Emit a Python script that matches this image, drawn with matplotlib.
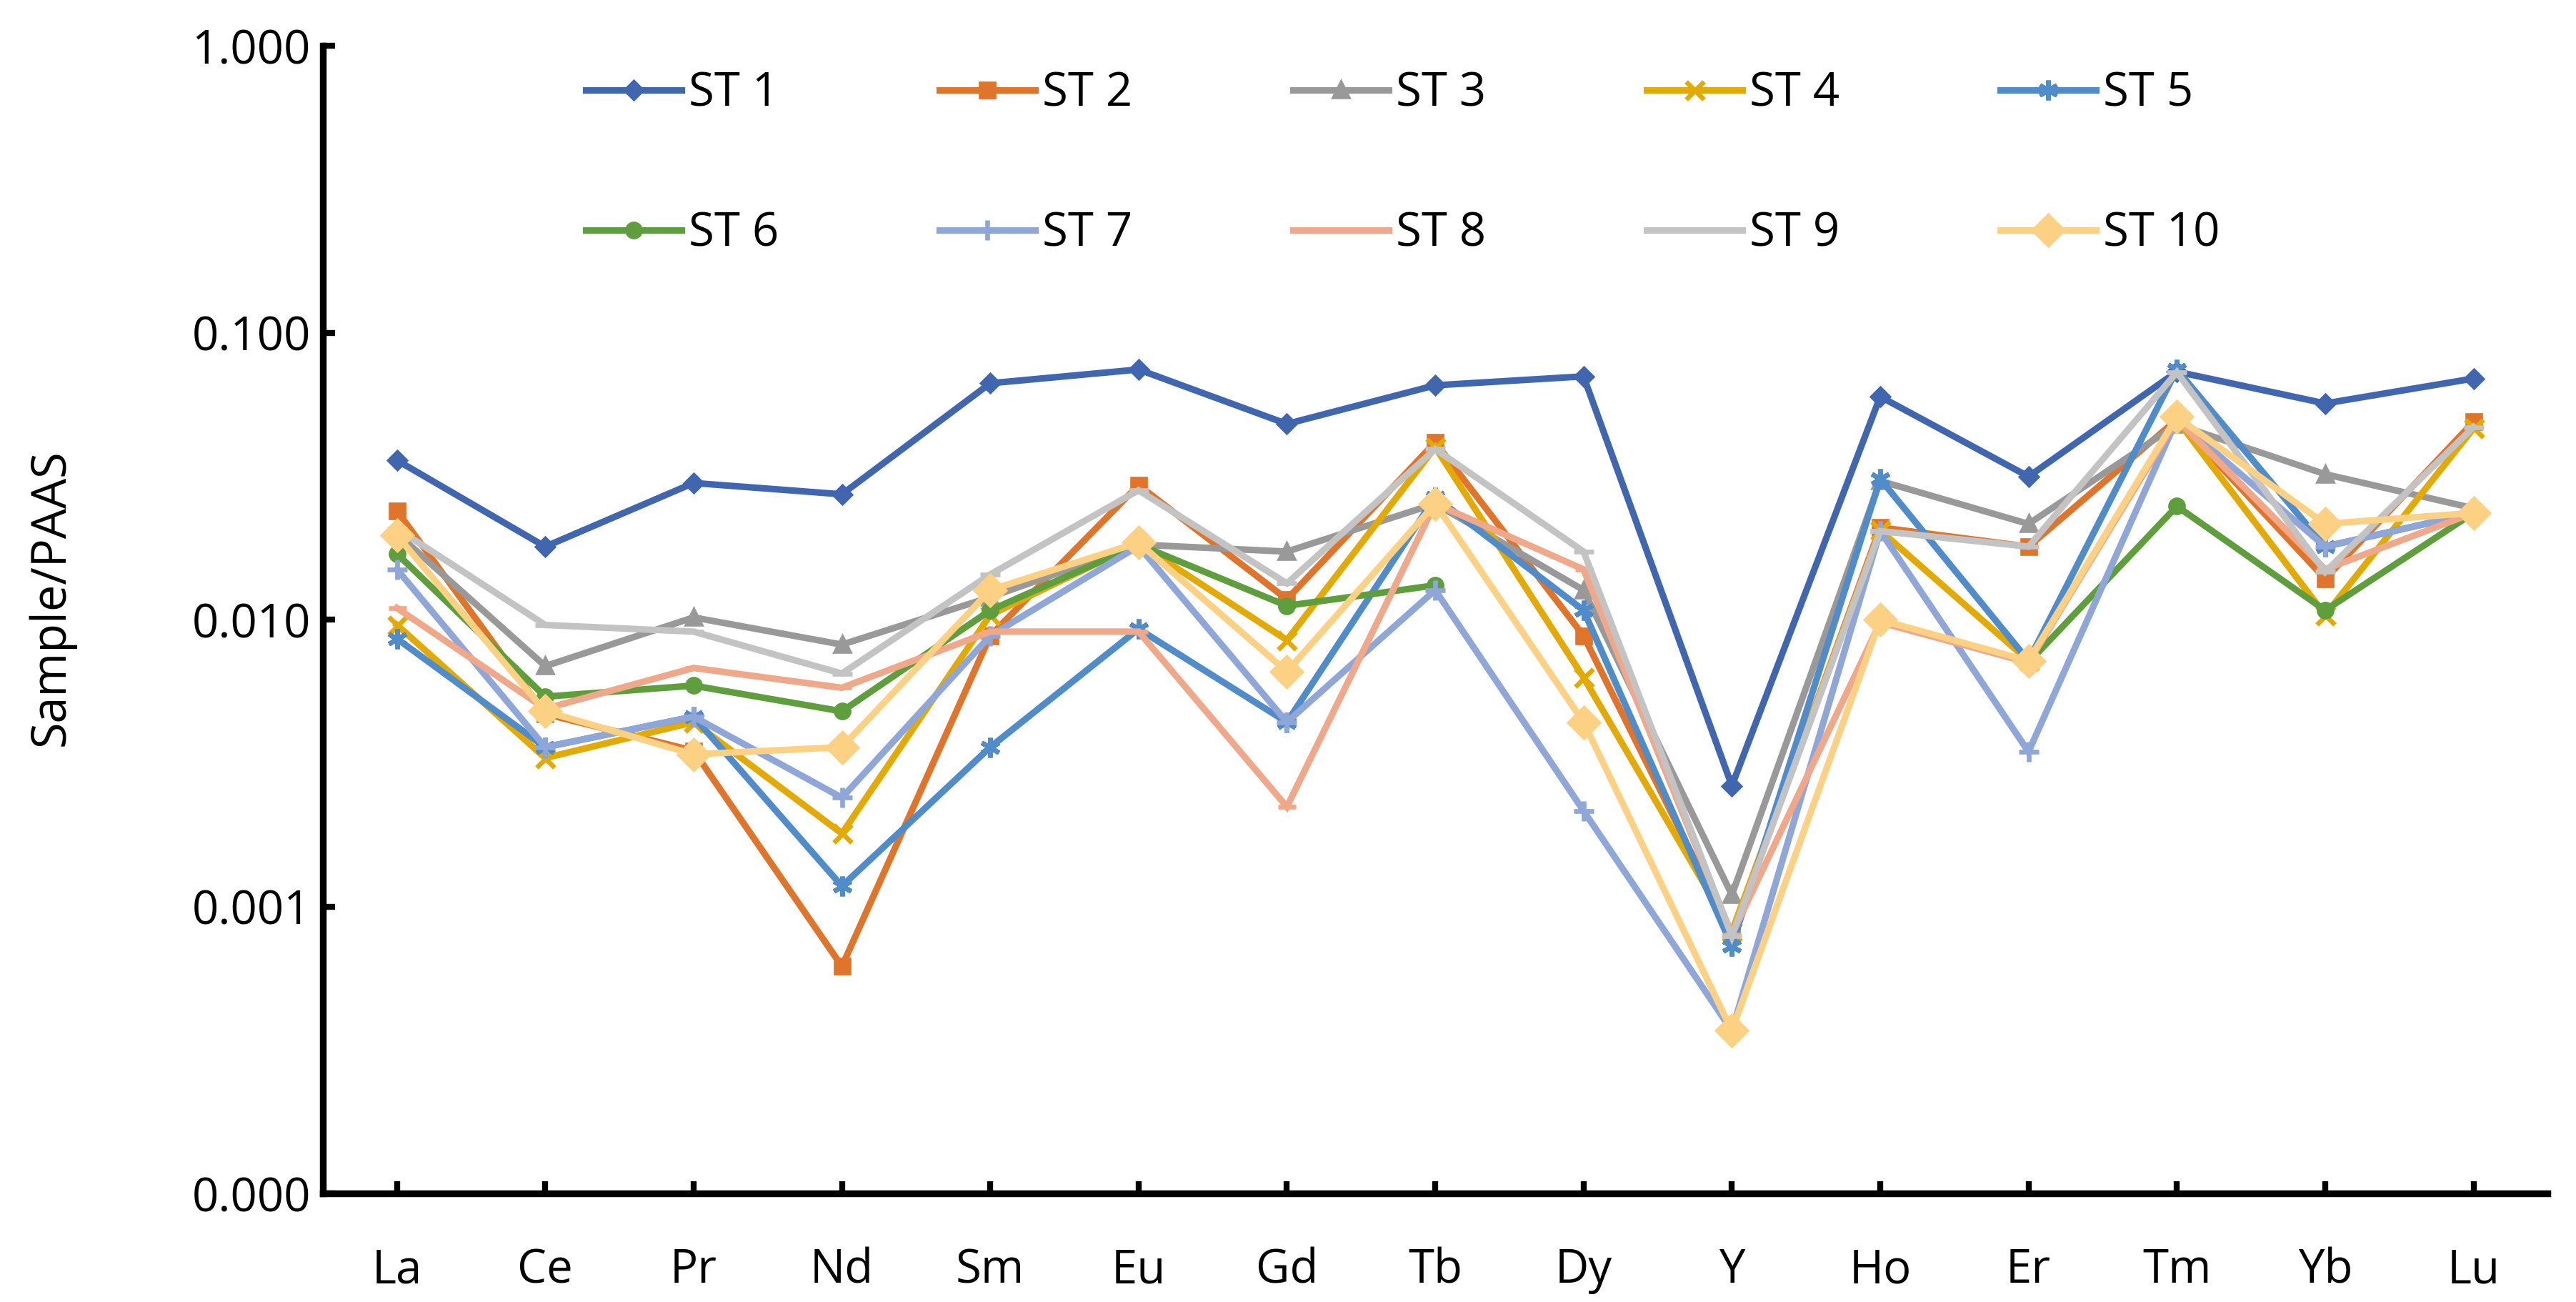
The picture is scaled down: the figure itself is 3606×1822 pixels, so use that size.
import numpy as np
import matplotlib
matplotlib.use('Agg')
import matplotlib.pyplot as plt
from matplotlib.ticker import FixedLocator, FixedFormatter, NullLocator

elements = ['La', 'Ce', 'Pr', 'Nd', 'Sm', 'Eu', 'Gd', 'Tb', 'Dy', 'Y', 'Ho', 'Er', 'Tm', 'Yb', 'Lu']
nan = np.nan

st1 = [0.036, 0.0180, 0.030, 0.0274, 0.0668, 0.0746, 0.0482, 0.0657, 0.0706, 0.00264, 0.060, 0.0316, 0.0733, 0.0568, 0.0694]
st2 = [0.024, 0.0047, 0.0035, 0.00062, 0.0088, 0.0295, 0.0118, 0.0416, 0.0088, 0.00080, 0.0210, 0.0180, 0.0499, 0.0139, 0.0490]
st3 = [0.020, 0.0069, 0.0102, 0.0082, 0.0120, 0.0183, 0.0173, 0.0254, 0.0127, 0.00110, 0.0305, 0.0216, 0.0480, 0.0322, 0.0245]
st4 = [0.0096, 0.0033, 0.0044, 0.0018, 0.0104, 0.0185, 0.0085, 0.0400, 0.0063, 0.00082, 0.0205, 0.0072, 0.0499, 0.0104, 0.0465]
st5 = [0.0086, 0.0036, 0.0046, 0.00118, 0.0036, 0.0093, 0.0044, 0.0268, 0.0108, 0.00073, 0.0310, 0.0072, 0.0746, 0.0180, 0.0236]
st6 = [0.017, 0.0054, 0.0059, 0.0048, 0.0108, 0.0183, 0.0112, 0.0132, nan, nan, nan, 0.0071, 0.0249, 0.0108, 0.0236]
st7 = [0.015, 0.0036, 0.0046, 0.0024, 0.0088, 0.0181, 0.0044, 0.0127, 0.00216, 0.00037, 0.0204, 0.00347, 0.0500, 0.0180, 0.0236]
st8 = [0.011, 0.0049, 0.0068, 0.0058, 0.0091, 0.0091, 0.00223, 0.0254, 0.0150, 0.00080, 0.0098, 0.0071, 0.0500, 0.0150, 0.0236]
st9 = [0.0208, 0.0096, 0.0091, 0.0065, 0.0144, 0.0283, 0.0134, 0.0394, 0.0173, 0.00079, 0.0204, 0.0180, 0.0730, 0.0147, 0.0470]
st10 = [0.0197, 0.0048, 0.0034, 0.0036, 0.0127, 0.0186, 0.0066, 0.0254, 0.0044, 0.00037, 0.0100, 0.0072, 0.0510, 0.0216, 0.0236]

series = [st1, st2, st3, st4, st5, st6, st7, st8, st9, st10]
labels = ['ST 1', 'ST 2', 'ST 3', 'ST 4', 'ST 5', 'ST 6', 'ST 7', 'ST 8', 'ST 9', 'ST 10']
colors = ['#4066B0', '#E0742A', '#999999', '#E3AA05', '#4F8CC9',
          '#5E9E3C', '#8EA6D8', '#F0A88A', '#C3C3C3', '#FCD184']
markers = ['D', 's', '^', 'x', (6, 2, 0), 'o', '+', '_', '_', 'D']
msizes = [5.5, 6.5, 6.5, 9, 10, 6.5, 10, 9, 10, 10]

plt.rcParams['font.family'] = ['Open Sans', 'DejaVu Sans']

fig = plt.figure(figsize=(18.03, 9.11), dpi=200)
ax = fig.add_axes([0.1253, 0.0832, 0.989 - 0.1253, 0.9646 - 0.0832])

x = np.arange(len(elements))
lines = []
for vals, lab, c, m, ms in zip(series, labels, colors, markers, msizes):
    ln, = ax.plot(x, vals, color=c, lw=3.3, marker=m, markersize=ms,
                  markeredgewidth=2.4, markerfacecolor=c, markeredgecolor=c,
                  label=lab, solid_joinstyle='miter')
    lines.append(ln)

ax.set_yscale('log')
ax.set_ylim(1e-4, 1.0)
ax.set_xlim(-0.5, len(elements) - 0.5)
yt = [1e-4, 1e-3, 1e-2, 1e-1, 1.0]
ax.yaxis.set_major_locator(FixedLocator(yt))
ax.yaxis.set_major_formatter(FixedFormatter(['0.000', '0.001', '0.010', '0.100', '1.000']))
ax.yaxis.set_minor_locator(NullLocator())
ax.set_xticks(x)
ax.set_xticklabels(elements)

for s in ['top', 'right']:
    ax.spines[s].set_visible(False)
for s in ['left', 'bottom']:
    ax.spines[s].set_linewidth(3.4)
    ax.spines[s].set_capstyle('projecting')
ax.tick_params(axis='both', direction='in', length=6, width=3, labelsize=23.5)
ax.tick_params(axis='x', pad=27)
ax.tick_params(axis='y', pad=6)

fig.text(0.020, 0.541, 'Sample/PAAS', rotation=90, ha='center', va='center',
         fontsize=24)

# legend filled row by row, as in the original (5 columns x 2 rows)
order = [0, 5, 1, 6, 2, 7, 3, 8, 4, 9]
ax.legend([lines[i] for i in order], [labels[i] for i in order],
          ncol=5, loc='upper left', bbox_to_anchor=(0.2274, 0.946),
          bbox_transform=fig.transFigure, frameon=False, fontsize=23.5,
          handlelength=2.05, handletextpad=0.15, columnspacing=3.45,
          labelspacing=2.0, borderpad=0, borderaxespad=0)

fig.savefig('out.png', dpi=200)
plt.close(fig)
